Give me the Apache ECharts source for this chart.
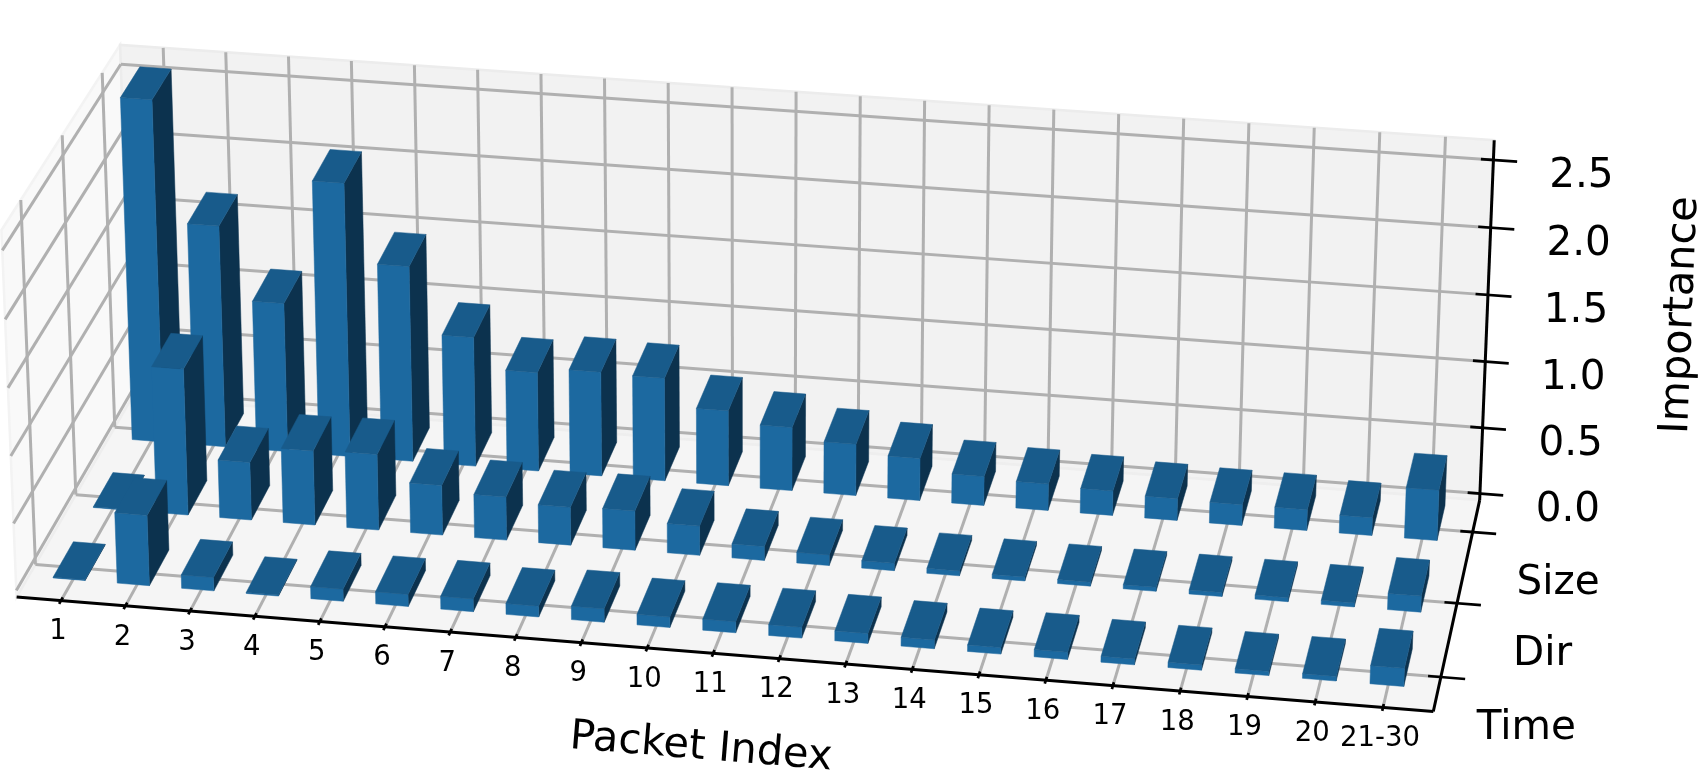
<!DOCTYPE html>
<html>
<head>
<meta charset="utf-8">
<style>
  html, body { margin: 0; padding: 0; background: #fff; }
  #chart { width: 1700px; height: 780px; }
</style>
<script src="https://cdn.jsdelivr.net/npm/echarts@6/dist/echarts.min.js"></script>
</head>
<body>
<div id="chart"></div>
<script>
// tick labels
const packets = ['1','2','3','4','5','6','7','8','9','10','11','12','13','14','15','16','17','18','19','20','21-30'];
const features = ['Time', 'Dir', 'Size'];
const zTicks = [0, 0.5, 1, 1.5, 2, 2.5];

// importance per packet
const timeValues = [0.005,0.525,0.1,0.007,0.09,0.09,0.095,0.08,0.1,0.078,0.082,0.08,0.073,0.065,0.048,0.053,0.043,0.038,0.031,0.034,0.133];
const dirValues = [0.005,1.1,0.435,0.56,0.57,0.375,0.325,0.285,0.295,0.22,0.105,0.08,0.055,0.037,0.03,0.03,0.03,0.03,0.03,0.03,0.12];
const sizeValues = [2.59,1.68,1.13,2.07,1.48,0.98,0.75,0.79,0.78,0.57,0.48,0.39,0.32,0.22,0.2,0.185,0.165,0.157,0.157,0.134,0.38];

// box limits of the 3d axes
const xMin = -0.69, xMax = 20.74;
const yMin = -0.455, yMax = 2.46;
const zMin = -0.05, zMax = 2.645;

// bar footprint around its tick
const barX0 = -0.25, barX1 = 0.25;
const barY0 = -0.25, barY1 = 0.25;

// where box points land in the picture: [x, y, z, px, py]
const viewAnchors = [
  [xMin, yMin, zMin, 16.7, 596.7], [0, yMin, zMin, 61, 601.7], [6, yMin, zMin, 450.3, 632.7],
  [12, yMin, zMin, 845.7, 664.3], [20, yMin, zMin, 1383, 707.3], [xMax, yMin, zMin, 1433.3, 711],
  [xMax, 0, zMin, 1440.7, 677.3], [xMax, 1, zMin, 1456.7, 603.3], [xMax, 2, zMin, 1473.3, 531.3],
  [xMax, yMax, 0, 1479.3, 494], [xMax, yMax, 1, 1485.7, 362], [xMax, yMax, 2, 1491, 227.3],
  [xMax, yMax, 2.5, 1493.3, 159.3], [xMax, yMax, zMax, 1494, 140],
  [xMin, 0, zMin, 35, 565], [xMin, 1, zMin, 76, 494], [xMin, 2, zMin, 115, 426.7],
  [xMin, yMax, zMax, 120.7, 43.3], [xMin, yMax, 2.5, 120.7, 63.3],
  [xMin, 2, zMax, 102.7, 73.3], [xMin, 1, zMax, 62.3, 136], [xMin, 0, zMax, 20.7, 201],
  [xMin, yMin, zMax, 1.7, 228],
  [0, yMax, zMax, 162.3, 49.3], [5, yMax, zMax, 477, 70.7], [20, yMax, zMax, 1445.7, 137.7]
];

// least squares fit of a 3x4 camera matrix
function fitCamera(anchors) {
  const n = 11;
  const a = [];
  for (let i = 0; i < n; i++) a.push(new Array(n + 1).fill(0));
  const addRow = (row, rhs) => {
    for (let i = 0; i < n; i++) {
      for (let j = 0; j < n; j++) a[i][j] += row[i] * row[j];
      a[i][n] += row[i] * rhs;
    }
  };
  anchors.forEach(([x, y, z, u, v]) => {
    addRow([x, y, z, 1, 0, 0, 0, 0, -u * x, -u * y, -u * z], u);
    addRow([0, 0, 0, 0, x, y, z, 1, -v * x, -v * y, -v * z], v);
  });
  for (let c = 0; c < n; c++) {
    let p = c;
    for (let r = c + 1; r < n; r++) if (Math.abs(a[r][c]) > Math.abs(a[p][c])) p = r;
    [a[c], a[p]] = [a[p], a[c]];
    for (let r = 0; r < n; r++) {
      if (r === c) continue;
      const f = a[r][c] / a[c][c];
      for (let k = c; k <= n; k++) a[r][k] -= f * a[c][k];
    }
  }
  return a.map((row, i) => row[n] / row[i]);
}

const cam = fitCamera(viewAnchors);

function project(x, y, z) {
  const w = cam[8] * x + cam[9] * y + cam[10] * z + 1;
  return [
    (cam[0] * x + cam[1] * y + cam[2] * z + cam[3]) / w,
    (cam[4] * x + cam[5] * y + cam[6] * z + cam[7]) / w
  ];
}

function seg(p, q, stroke, lineWidth) {
  return {
    type: 'line',
    shape: { x1: p[0], y1: p[1], x2: q[0], y2: q[1] },
    style: { stroke: stroke, lineWidth: lineWidth, lineCap: 'butt' }
  };
}

function poly(points, fill, stroke, lineWidth) {
  return {
    type: 'polygon',
    shape: { points: points },
    style: { fill: fill, stroke: stroke || fill, lineWidth: lineWidth === undefined ? 0.5 : lineWidth }
  };
}

function label(text, pos, size, rotation) {
  return {
    type: 'text',
    x: pos[0],
    y: pos[1],
    rotation: (rotation || 0) * Math.PI / 180,
    style: {
      text: text,
      x: 0,
      y: 0,
      fill: '#000',
      font: size + 'px "DejaVu Sans"',
      align: 'center',
      verticalAlign: 'middle',
      textAlign: 'center',
      textVerticalAlign: 'middle'
    }
  };
}

const gridColor = '#b0b0b0';
const gridWidth = 3;

function renderFrame() {
  const els = [];
  // panes
  els.push(poly([project(xMin, yMin, zMin), project(xMin, yMax, zMin), project(xMin, yMax, zMax), project(xMin, yMin, zMax)], '#f9f9f9', '#f3f3f3', 2.5));
  els.push(poly([project(xMin, yMax, zMin), project(xMax, yMax, zMin), project(xMax, yMax, zMax), project(xMin, yMax, zMax)], '#f2f2f2', '#ececec', 2.5));
  els.push(poly([project(xMin, yMin, zMin), project(xMax, yMin, zMin), project(xMax, yMax, zMin), project(xMin, yMax, zMin)], '#f5f5f5', '#eeeeee', 2.5));

  // grid, packet lines run along the floor then up the back wall
  packets.forEach((name, i) => {
    els.push(seg(project(i, yMin, zMin), project(i, yMax, zMin), gridColor, gridWidth));
    els.push(seg(project(i, yMax, zMin), project(i, yMax, zMax), gridColor, gridWidth));
  });
  features.forEach((name, j) => {
    els.push(seg(project(xMax, j, zMin), project(xMin, j, zMin), gridColor, gridWidth));
    els.push(seg(project(xMin, j, zMin), project(xMin, j, zMax), gridColor, gridWidth));
  });
  zTicks.forEach((z) => {
    els.push(seg(project(xMax, yMax, z), project(xMin, yMax, z), gridColor, gridWidth));
    els.push(seg(project(xMin, yMax, z), project(xMin, yMin, z), gridColor, gridWidth));
  });

  // axis lines
  els.push(seg(project(xMin, yMin, zMin), project(xMax, yMin, zMin), '#000', 3));
  els.push(seg(project(xMax, yMin, zMin), project(xMax, yMax, zMin), '#000', 3));
  els.push(seg(project(xMax, yMax, zMin), project(xMax, yMax, zMax), '#000', 3));

  // ticks and tick labels
  packets.forEach((name, i) => {
    els.push(seg(project(i, yMin + 0.045, zMin), project(i, yMin - 0.045, zMin), '#000', 2.7));
    const p = project(i, yMin, zMin);
    els.push(label(name, [p[0] - 3, p[1] + 31.5], 27.5));
  });
  features.forEach((name, j) => {
    els.push(seg(project(xMax - 0.19, j, zMin), project(xMax + 0.36, j, zMin), '#000', 2.7));
    const p = project(xMax, j, zMin);
    els.push(label(name, [p[0] + 85.5, p[1] + 51], 40.5));
  });
  zTicks.forEach((z) => {
    els.push(seg(project(xMax - 0.19, yMax, z), project(xMax + 0.36, yMax, z), '#000', 2.7));
    const p = project(xMax, yMax, z);
    els.push(label(z.toFixed(1), [p[0] + 88, p[1] + 17], 40.5));
  });

  // axis titles
  els.push(label('Packet Index', [701, 748], 41.5, -4.7));
  els.push(label('Importance', [1681, 315], 41.5, 87.7));
  return { type: 'group', children: els };
}

function renderBar(params, api) {
  const x = api.value(0), y = api.value(1), h = api.value(2);
  const x0 = x + barX0, x1 = x + barX1, y0 = y + barY0, y1 = y + barY1;
  return {
    type: 'group',
    children: [
      poly([project(x1, y0, 0), project(x1, y1, 0), project(x1, y1, h), project(x1, y0, h)], '#0c324e'),
      poly([project(x0, y0, 0), project(x1, y0, 0), project(x1, y0, h), project(x0, y0, h)], '#1c69a0'),
      poly([project(x0, y0, h), project(x1, y0, h), project(x1, y1, h), project(x0, y1, h)], '#185b8b')
    ]
  };
}

function rowData(values, row) {
  return values.map((v, i) => [i, row, v]);
}

const chart = echarts.init(document.getElementById('chart'));
chart.setOption({
  animation: false,
  backgroundColor: '#fff',
  series: [
    { type: 'custom', coordinateSystem: 'none', silent: true, z: 1, data: [[0]], renderItem: renderFrame },
    // back row first so the nearer bars paint over it
    { type: 'custom', name: 'Size', coordinateSystem: 'none', silent: true, z: 2, data: rowData(sizeValues, 2), renderItem: renderBar },
    { type: 'custom', name: 'Dir', coordinateSystem: 'none', silent: true, z: 3, data: rowData(dirValues, 1), renderItem: renderBar },
    { type: 'custom', name: 'Time', coordinateSystem: 'none', silent: true, z: 4, data: rowData(timeValues, 0), renderItem: renderBar }
  ]
});
</script>
</body>
</html>
